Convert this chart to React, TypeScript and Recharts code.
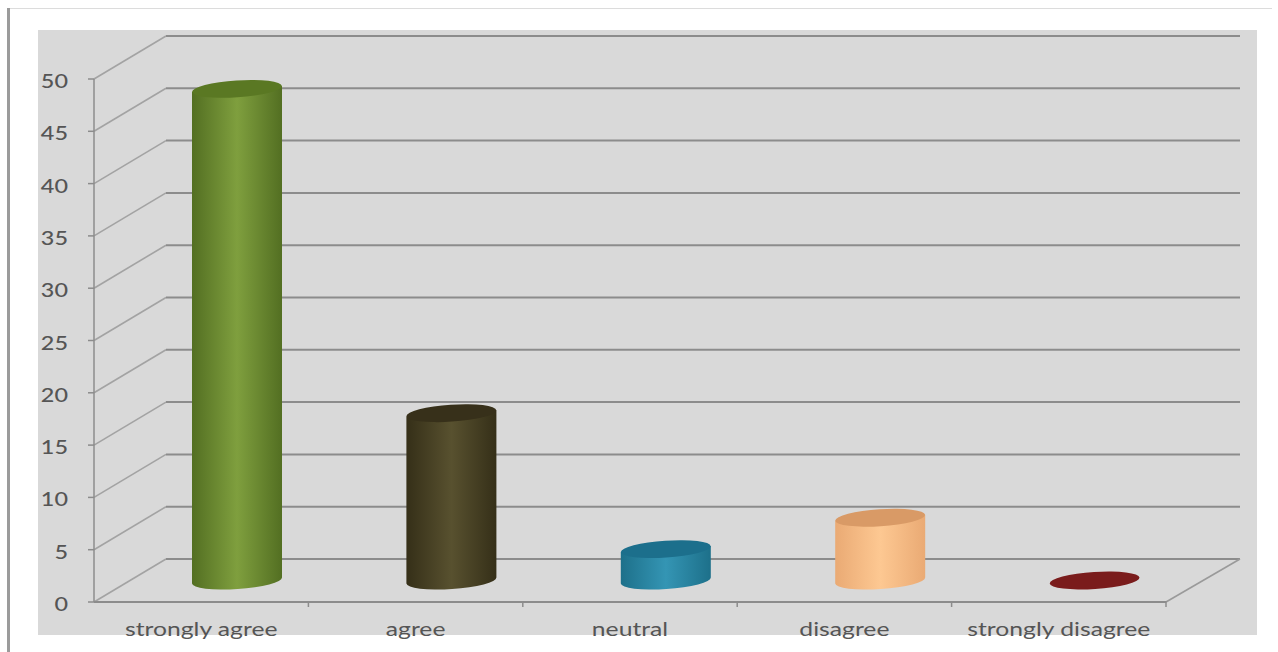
import { BarChart, Bar, CartesianGrid, XAxis, YAxis } from "recharts"

const categories = ["strongly agree", "agree", "neutral", "disagree", "strongly disagree"]
const responses = [47, 16, 3, 6, 0]
const yTicks = [0, 5, 10, 15, 20, 25, 30, 35, 40, 45, 50]

// edge, middle, lid
const barColors = [
  ["#536f22", "#7f9f3e", "#5a7823"],
  ["#352f18", "#58512f", "#37301a"],
  ["#1d708a", "#3495b4", "#1c6f8c"],
  ["#eaaa74", "#fdc892", "#d99a66"],
  ["#6f1717", "#7f2020", "#7a1c1c"],
]

const WIDTH = 1278
const HEIGHT = 652
const DEPTH_X = 72
const DEPTH_Y = 43
const BAND = 214.4
const LINE = "#8c8c8c"
const TEXT = "#555555"
const FONT = "Lato, sans-serif"

const data = categories.map((name, i) => ({ name, value: responses[i] }))

// wall line plus the slanted side wall segment
function GridLine({ x1, y1, x2 }: any) {
  const backY = y1 - DEPTH_Y
  const backLeft = x1 + DEPTH_X
  const backRight = x2 + DEPTH_X + 2
  return (
    <g fill="none">
      <line x1={x1} y1={y1} x2={backLeft} y2={backY} stroke="#a3a3a3" strokeWidth={1.6} />
      <line x1={backLeft} y1={backY} x2={backRight} y2={backY} stroke={LINE} strokeWidth={2} />
      {y1 > 590 && <line x1={backRight} y1={backY} x2={x2} y2={y1} stroke="#9a9a9a" strokeWidth={1.6} />}
    </g>
  )
}

function Cylinder({ x, y, width, height, index }: any) {
  const rx = width / 2
  const ry = 8.5
  const tilt = 3
  const left = x + DEPTH_X / 2
  const right = left + width
  const cx = left + rx
  const top = y - DEPTH_Y / 2
  const base = y + height - DEPTH_Y / 2
  const rotate = -3.8
  const [, , lid] = barColors[index]
  return (
    <g>
      {height > 0 && (
        <path
          d={`M${left},${top + tilt} L${right},${top - tilt} L${right},${base - tilt} A${rx},${ry} ${rotate} 0 1 ${left},${base + tilt} Z`}
          fill={`url(#cyl${index})`}
        />
      )}
      <ellipse cx={cx} cy={top} rx={rx} ry={ry} fill={lid} transform={`rotate(${rotate} ${cx} ${top})`} />
    </g>
  )
}

// labels run wider than the font's natural proportions
function CategoryTick({ x, y, payload }: any) {
  return (
    <g>
      <line x1={x + BAND / 2} y1={y - 9} x2={x + BAND / 2} y2={y - 3} stroke={LINE} strokeWidth={1.5} />
      <text
        transform={`translate(${x} ${y + 26}) scale(1.3 1)`}
        textAnchor="middle"
        fontFamily={FONT}
        fontSize={19}
        fill={TEXT}
      >
        {payload.value}
      </text>
    </g>
  )
}

function ValueTick({ x, y, payload }: any) {
  return (
    <text
      transform={`translate(${x} ${y + 9}) scale(1.17 1)`}
      textAnchor="end"
      fontFamily={FONT}
      fontSize={20}
      fontWeight={500}
      fill={TEXT}
    >
      {payload.value}
    </text>
  )
}

export default function App() {
  return (
    <div style={{ position: "absolute", left: 0, top: 0, width: WIDTH, height: HEIGHT, background: "#fff", overflow: "hidden" }}>
      <div style={{ position: "absolute", left: 7, top: 8, width: 3, height: 644, background: "#9b9b9b" }} />
      <div style={{ position: "absolute", left: 10, top: 8, width: 1262, height: 1, background: "#dcdcdc" }} />
      <div style={{ position: "absolute", left: 38, top: 30, width: 1219, height: 605, background: "#d9d9d9" }} />
      <div style={{ position: "absolute", left: 0, top: 0 }}>
        <BarChart
          width={WIDTH}
          height={HEIGHT}
          data={data}
          barSize={90}
          margin={{ top: 79, right: 112, bottom: 0, left: 0 }}
        >
          <defs>
            {barColors.map(([edge, mid], i) => (
              <linearGradient key={i} id={`cyl${i}`} x1="0" y1="0" x2="1" y2="0">
                <stop offset="0" stopColor={edge} />
                <stop offset="0.5" stopColor={mid} />
                <stop offset="1" stopColor={edge} />
              </linearGradient>
            ))}
          </defs>
          <CartesianGrid vertical={false} horizontal={(props: any) => <GridLine key={props.y1} {...props} />} />
          <XAxis
            dataKey="name"
            interval={0}
            height={50}
            axisLine={{ stroke: LINE, strokeWidth: 2 }}
            tickLine={false}
            tick={<CategoryTick />}
          />
          <YAxis
            width={94}
            domain={[0, 50]}
            ticks={yTicks}
            interval={0}
            axisLine={{ stroke: LINE, strokeWidth: 1.5 }}
            tickLine={{ stroke: LINE, strokeWidth: 1.5 }}
            tickSize={6}
            tickMargin={20}
            tick={<ValueTick />}
          />
          <Bar dataKey="value" shape={<Cylinder />} isAnimationActive={false} />
        </BarChart>
      </div>
    </div>
  )
}
